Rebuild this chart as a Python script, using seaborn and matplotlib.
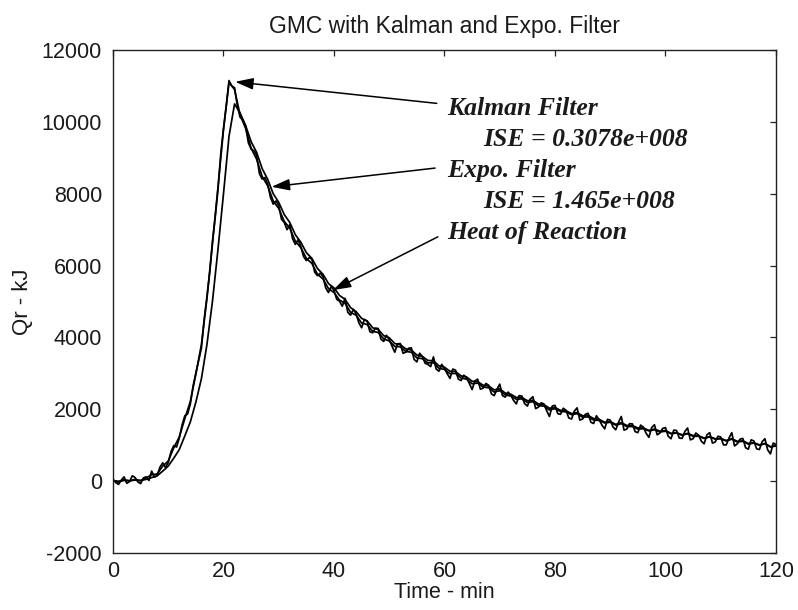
import numpy as np
import pandas as pd
import matplotlib
matplotlib.use("Agg")
import matplotlib.pyplot as plt
import seaborn as sns

# ---------------- data ----------------
# measured heat of reaction, sampled every 0.5 min (0 .. 120)
heat_time = [i / 2 for i in range(241)]
heat_of_reaction = [
    60, -40, -90, 30, 120, -60, -10, 150, 100, -20,
    -70, 90, 120, 20, 280, 110, 160, 390, 510, 380,
    520, 820, 990, 950, 1200, 1560, 1820, 1870, 2150, 2650,
    3010, 3350, 3700, 4500, 5130, 5800, 6670, 7350, 8110, 9100,
    9820, 10450, 11150, 11000, 10950, 10450, 10130, 10050, 9890, 9420,
    9240, 9200, 9070, 8560, 8410, 8450, 8270, 7900, 7710, 7800,
    7670, 7290, 7200, 7000, 7140, 6750, 6590, 6720, 6530, 6250,
    6140, 6220, 6180, 5820, 5720, 5790, 5700, 5380, 5250, 5420,
    5310, 5060, 5010, 4870, 5090, 4700, 4620, 4780, 4660, 4410,
    4270, 4500, 4450, 4160, 4130, 4260, 4250, 3950, 3890, 4060,
    3940, 3760, 3590, 3820, 3830, 3560, 3590, 3700, 3710, 3390,
    3320, 3560, 3470, 3280, 3250, 3190, 3460, 3120, 3060, 3250,
    3140, 2990, 2860, 3120, 3090, 2840, 2800, 2950, 2880, 2720,
    2550, 2790, 2840, 2560, 2590, 2720, 2670, 2430, 2380, 2560,
    2700, 2380, 2340, 2480, 2390, 2250, 2150, 2380, 2370, 2160,
    2090, 2280, 2350, 2020, 2060, 2180, 2150, 1960, 1800, 2090,
    2110, 1880, 1860, 2030, 1970, 1760, 1730, 1950, 2040, 1700,
    1730, 1860, 1890, 1640, 1605, 1820, 1710, 1560, 1455, 1720,
    1700, 1510, 1430, 1640, 1800, 1420, 1450, 1600, 1595, 1380,
    1350, 1560, 1505, 1330, 1220, 1490, 1570, 1290, 1340, 1470,
    1490, 1250, 1180, 1420, 1410, 1200, 1190, 1380, 1480, 1150,
    1180, 1340, 1280, 1110, 1040, 1290, 1350, 1060, 1090, 1250,
    1230, 1010, 1010, 1200, 1350, 980, 1040, 1170, 1190, 930,
    890, 1150, 1120, 900, 880, 1100, 1180, 870, 760, 1060,
    1020,
]

# filter outputs, sampled every 1 min (0 .. 120)
filter_time = list(range(0, 121))
kalman_filter = [
    20, -30, 40, 10, 50, 10, 90, 180, 200, 420,
    560, 930, 1230, 1740, 2220, 2980, 3800, 5080, 6600, 8180,
    9780, 11100, 10900, 10200, 9820, 9270, 8960, 8480, 8220, 7800,
    7590, 7230, 7040, 6680, 6500, 6200, 6060, 5760, 5630, 5360,
    5250, 5040, 4950, 4700, 4620, 4400, 4360, 4170, 4140, 3960,
    3900, 3750, 3740, 3610, 3590, 3430, 3410, 3290, 3300, 3140,
    3110, 2990, 3000, 2870, 2840, 2710, 2730, 2620, 2600, 2480,
    2520, 2400, 2370, 2280, 2290, 2190, 2210, 2100, 2090, 1980,
    2020, 1940, 1930, 1850, 1880, 1780, 1790, 1700, 1690, 1620,
    1640, 1560, 1600, 1520, 1520, 1450, 1460, 1400, 1430, 1370,
    1390, 1320, 1340, 1280, 1320, 1250, 1250, 1190, 1230, 1170,
    1180, 1120, 1170, 1090, 1110, 1030, 1060, 1000, 1040, 950,
    980,
]

expo_filter = [
    10, 0, 20, 10, 30, 20, 50, 100, 150, 280,
    420, 640, 880, 1260, 1650, 2200, 2850, 3800, 5000, 6450,
    8000, 9600, 10500, 10250, 9900, 9450, 9150, 8700, 8400, 8000,
    7760, 7420, 7200, 6860, 6650, 6360, 6200, 5920, 5760, 5500,
    5380, 5170, 5060, 4830, 4720, 4530, 4460, 4270, 4220, 4050,
    3990, 3830, 3800, 3680, 3650, 3510, 3470, 3360, 3350, 3210,
    3170, 3060, 3050, 2930, 2900, 2780, 2770, 2670, 2650, 2540,
    2570, 2450, 2420, 2330, 2330, 2240, 2250, 2150, 2130, 2030,
    2050, 1970, 1960, 1880, 1910, 1820, 1830, 1740, 1720, 1640,
    1660, 1580, 1630, 1550, 1550, 1480, 1480, 1410, 1450, 1390,
    1410, 1330, 1350, 1290, 1330, 1270, 1260, 1200, 1240, 1180,
    1190, 1130, 1180, 1110, 1120, 1050, 1070, 1010, 1050, 960,
    990,
]

x_ticks = [0, 20, 40, 60, 80, 100, 120]
y_ticks = [-2000, 0, 2000, 4000, 6000, 8000, 10000, 12000]

title_text = "GMC with Kalman and Expo. Filter"
x_label = "Time - min"
y_label = "Qr - kJ"

kalman_label = "Kalman Filter"
kalman_ise = "ISE = 0.3078e+008"
expo_label = "Expo. Filter"
expo_ise = "ISE = 1.465e+008"
heat_label = "Heat of Reaction"

# ---------------- styling ----------------
sns.set_style("white")
plt.rcParams["font.family"] = ["Liberation Sans", "DejaVu Sans"]

fig = plt.figure(figsize=(7.98, 6.10), dpi=100)
ax = fig.add_axes([0.1416, 0.0934, 0.8308, 0.8246])

df_heat = pd.DataFrame({"time": heat_time, "Qr": heat_of_reaction})
df_kal = pd.DataFrame({"time": filter_time, "Qr": kalman_filter})
df_exp = pd.DataFrame({"time": filter_time, "Qr": expo_filter})

for d in (df_exp, df_kal, df_heat):
    sns.lineplot(data=d, x="time", y="Qr", ax=ax, color="black",
                 linewidth=1.25, estimator=None, sort=False)

ax.set_xlim(0, 120)
ax.set_ylim(-2000, 12000)
ax.set_xticks(x_ticks)
ax.set_yticks(y_ticks)
ax.set_xticklabels([str(v) for v in x_ticks])
ax.set_yticklabels([str(v) for v in y_ticks])

for s in ax.spines.values():
    s.set_visible(True)
    s.set_color("#222222")
    s.set_linewidth(1.0)

ax.tick_params(axis="both", which="major", direction="in", length=4.5,
               width=0.9, color="#222222", labelsize=15.5, labelcolor="#1a1a1a",
               top=True, right=True, pad=8)
ax.tick_params(axis="x", pad=6)

ax.set_xlabel(x_label, fontsize=15.5, color="#1a1a1a", labelpad=0)
ax.set_ylabel(y_label, fontsize=16, color="#1a1a1a", labelpad=6)
ax.set_title(title_text, fontsize=16.5, color="#1a1a1a", pad=12)

serif = dict(family=["Liberation Serif", "DejaVu Serif"], style="italic",
             weight="bold", fontsize=18.5, color="#1a1a1a")

ax.text(60.4, 10190, kalman_label, ha="left", va="baseline", **serif)
ax.text(67.0, 9326, kalman_ise, ha="left", va="baseline", **serif)
ax.text(60.4, 8472, expo_label, ha="left", va="baseline", **serif)
ax.text(67.0, 7609, expo_ise, ha="left", va="baseline", **serif)
ax.text(60.4, 6729, heat_label, ha="left", va="baseline", **serif)

arrow_kw = dict(arrowstyle="-|>,head_length=1.1,head_width=0.35",
                color="black", lw=1.1, shrinkA=0, shrinkB=0)
ax.annotate("", xy=(22.1, 11115), xytext=(58.6, 10515), arrowprops=arrow_kw)
ax.annotate("", xy=(28.7, 8193), xytext=(58.3, 8714), arrowprops=arrow_kw)
ax.annotate("", xy=(39.8, 5317), xytext=(58.8, 6801), arrowprops=arrow_kw)

fig.savefig("out.png", dpi=100)
